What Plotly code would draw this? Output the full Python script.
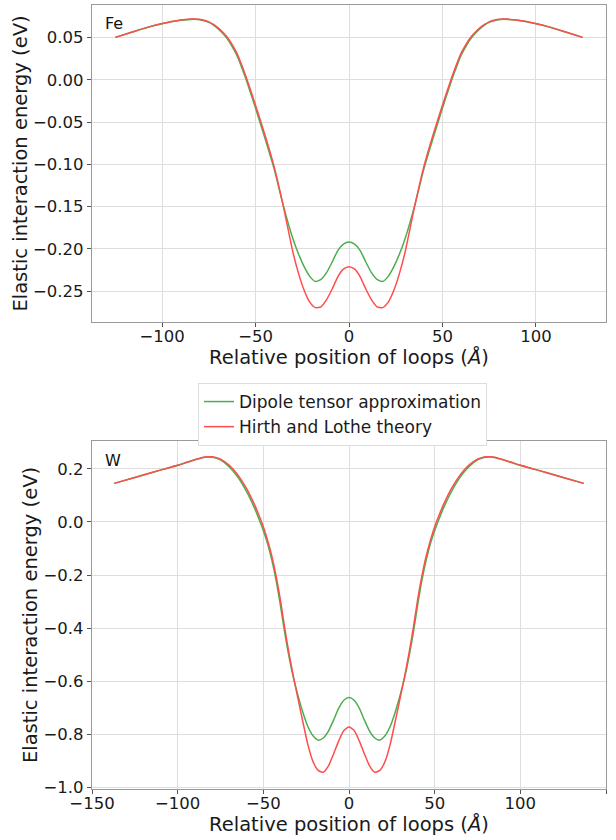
import plotly.graph_objects as go

# ---- Fe data ----
fe_x = [-125, -115, -105, -100, -95, -90, -85, -82.5, -80, -77.5, -75, -72.5, -70, -67.5, -65, -62.5, -60, -57.5,
        -55, -50, -45, -40, -35, -30, -27, -24, -21, -18, -15, -12, -9, -6, -3, 0,
        3, 6, 9, 12, 15, 18, 21, 24, 27, 30, 35, 40, 45, 50, 55, 57.5, 60, 62.5, 65, 67.5, 70, 72.5, 75, 77.5,
        80, 82.5, 85, 90, 95, 100, 105, 115, 125]
fe_dipole = [0.0502, 0.0572, 0.0637, 0.0663, 0.0687, 0.0704, 0.0714, 0.0716, 0.0711, 0.0699, 0.0679, 0.0646,
             0.0603, 0.0548, 0.0482, 0.0393, 0.0290, 0.0152, 0.0000, -0.0335, -0.0690, -0.1060, -0.1500, -0.1880,
             -0.2060, -0.2210, -0.2325, -0.2385, -0.2360, -0.2280, -0.2155, -0.2020, -0.1945, -0.1920,
             -0.1945, -0.2020, -0.2155, -0.2280, -0.2360, -0.2385, -0.2325, -0.2210, -0.2060, -0.1880, -0.1500,
             -0.1060, -0.0690, -0.0335, 0.0000, 0.0152, 0.0290, 0.0393, 0.0482, 0.0548, 0.0603, 0.0646, 0.0679,
             0.0699, 0.0711, 0.0716, 0.0714, 0.0704, 0.0687, 0.0663, 0.0637, 0.0572, 0.0502]
fe_hl = [0.0502, 0.0572, 0.0638, 0.0665, 0.0690, 0.0708, 0.0718, 0.0720, 0.0716, 0.0705, 0.0686, 0.0655, 0.0615,
         0.0563, 0.0500, 0.0415, 0.0315, 0.0180, 0.0030, -0.0300, -0.0650, -0.1030, -0.1510, -0.2040, -0.2290,
         -0.2490, -0.2630, -0.2695, -0.2685, -0.2600, -0.2475, -0.2330, -0.2240, -0.2210,
         -0.2240, -0.2330, -0.2475, -0.2600, -0.2685, -0.2695, -0.2630, -0.2490, -0.2290, -0.2040, -0.1510,
         -0.1030, -0.0650, -0.0300, 0.0030, 0.0180, 0.0315, 0.0415, 0.0500, 0.0563, 0.0615, 0.0655, 0.0686,
         0.0705, 0.0716, 0.0720, 0.0718, 0.0708, 0.0690, 0.0665, 0.0638, 0.0572, 0.0502]

# ---- W data ----
w_x = [-137, -125, -115, -105, -100, -95, -90, -85, -82.5, -80, -77.5, -75, -70, -65, -60, -55, -52.5, -50, -47.5,
       -45, -42.5, -40, -37.5, -35, -32.5, -30, -27, -24, -21, -18, -15, -12, -9, -6, -3, 0,
       3, 6, 9, 12, 15, 18, 21, 24, 27, 30, 32.5, 35, 37.5, 40, 42.5, 45, 47.5, 50, 52.5, 55, 60, 65, 70, 75,
       77.5, 80, 82.5, 85, 90, 95, 100, 105, 115, 125, 137]
w_dipole = [0.145, 0.167, 0.186, 0.204, 0.213, 0.2235, 0.2335, 0.2425, 0.2440, 0.2432, 0.2398, 0.2338, 0.2080,
            0.1700, 0.1170, 0.0500, 0.0100, -0.0330, -0.0820, -0.1450, -0.2220, -0.3150, -0.4180, -0.5080,
            -0.5850, -0.6480, -0.7150, -0.7700, -0.8050, -0.8210, -0.8130, -0.7870, -0.7460, -0.7010, -0.6710,
            -0.6610,
            -0.6710, -0.7010, -0.7460, -0.7870, -0.8130, -0.8210, -0.8050, -0.7700, -0.7150, -0.6480, -0.5850,
            -0.5080, -0.4180, -0.3150, -0.2220, -0.1450, -0.0820, -0.0330, 0.0100, 0.0500, 0.1170, 0.1700,
            0.2080, 0.2338, 0.2398, 0.2432, 0.2440, 0.2425, 0.2335, 0.2235, 0.213, 0.204, 0.186, 0.167, 0.145]
w_hl = [0.145, 0.167, 0.186, 0.204, 0.213, 0.2235, 0.2340, 0.2435, 0.2455, 0.2450, 0.2420, 0.2365, 0.2140,
        0.1780, 0.1280, 0.0630, 0.0240, -0.0180, -0.0700, -0.1300, -0.2050, -0.2950, -0.4000, -0.4950,
        -0.5800, -0.6580, -0.7500, -0.8380, -0.9020, -0.9350, -0.9420, -0.9180, -0.8730, -0.8240, -0.7850,
        -0.7720,
        -0.7850, -0.8240, -0.8730, -0.9180, -0.9420, -0.9350, -0.9020, -0.8380, -0.7500, -0.6580, -0.5800,
        -0.4950, -0.4000, -0.2950, -0.2050, -0.1300, -0.0700, -0.0180, 0.0240, 0.0630, 0.1280, 0.1780,
        0.2140, 0.2365, 0.2420, 0.2450, 0.2455, 0.2435, 0.2340, 0.2235, 0.213, 0.204, 0.186, 0.167, 0.145]

series_names = ["Dipole tensor approximation", "Hirth and Lothe theory"]
panel_labels = ["Fe", "W"]
x_title = "Relative position of loops (<i>Å</i>)"
y_title = "Elastic interaction energy (eV)"

GREEN = "#4cae4c"
RED = "#ff4d4d"
FONT = "DejaVu Sans"

fig = go.Figure()
line_g = dict(color=GREEN, width=1.5, shape="spline", smoothing=0.6)
line_r = dict(color=RED, width=1.5, shape="spline", smoothing=0.6)
fig.add_trace(go.Scatter(x=fe_x, y=fe_dipole, mode="lines", line=line_g, name=series_names[0], xaxis="x", yaxis="y"))
fig.add_trace(go.Scatter(x=fe_x, y=fe_hl, mode="lines", line=line_r, name=series_names[1], xaxis="x", yaxis="y"))
fig.add_trace(go.Scatter(x=w_x, y=w_dipole, mode="lines", line=line_g, name=series_names[0], showlegend=False,
                         xaxis="x2", yaxis="y2"))
fig.add_trace(go.Scatter(x=w_x, y=w_hl, mode="lines", line=line_r, name=series_names[1], showlegend=False,
                         xaxis="x2", yaxis="y2"))

W, H = 616, 840
xd = [92 / W, 606 / W]
y1d = [1 - 322 / H, 1 - 5 / H]
y2d = [1 - 789 / H, 1 - 441 / H]

TICK = 16.5
TITLE = 19.5
axis_common = dict(showgrid=True, gridcolor="#dedede", gridwidth=1, zeroline=False, automargin=False,
                   showline=True, linecolor="#9a9a9a", linewidth=1.2, mirror=True,
                   ticks="outside", ticklen=4, tickcolor="#555",
                   tickfont=dict(size=TICK, color="#1a1a1a", family=FONT))

fig.update_layout(
    width=W, height=H, margin=dict(l=0, r=0, t=0, b=0),
    paper_bgcolor="white", plot_bgcolor="white",
    font=dict(family=FONT, color="#1a1a1a"),
    xaxis=dict(domain=xd, anchor="y", range=[-137.5, 137.5], tickvals=[-100, -50, 0, 50, 100],
               ticklabelstandoff=-5,
               title=dict(text=x_title, font=dict(size=TITLE), standoff=2), **axis_common),
    yaxis=dict(domain=y1d, anchor="x", range=[-0.2865, 0.0885],
               tickvals=[-0.25, -0.2, -0.15, -0.1, -0.05, 0.0, 0.05],
               tickformat=".2f", title=dict(text=y_title, font=dict(size=TITLE), standoff=0), **axis_common),
    xaxis2=dict(domain=xd, anchor="y2", range=[-150, 150], tickvals=[-150, -100, -50, 0, 50, 100, 150],
                ticklabelstandoff=-5,
                title=dict(text=x_title, font=dict(size=TITLE), standoff=2), **axis_common),
    yaxis2=dict(domain=y2d, anchor="x2", range=[-1.005, 0.3045],
                tickvals=[-1.0, -0.8, -0.6, -0.4, -0.2, 0.0, 0.2],
                tickformat=".1f", title=dict(text=y_title, font=dict(size=TITLE), standoff=0), **axis_common),
    legend=dict(x=198 / W, y=1 - 383 / H, xanchor="left", yanchor="top", bgcolor="white",
                bordercolor="#dddddd", borderwidth=1, font=dict(size=17, family=FONT, color="#1a1a1a")),
    showlegend=True,
)

fig.add_annotation(text=panel_labels[0], xref="x domain", yref="y domain", x=0.022, y=0.978,
                   xanchor="left", yanchor="top", showarrow=False, font=dict(size=16, family=FONT, color="#111"))
fig.add_annotation(text=panel_labels[1], xref="x2 domain", yref="y2 domain", x=0.022, y=0.978,
                   xanchor="left", yanchor="top", showarrow=False, font=dict(size=16, family=FONT, color="#111"))

fig.write_html("out.html", config={"displayModeBar": False},
               post_script="document.body.style.margin='0px';")
